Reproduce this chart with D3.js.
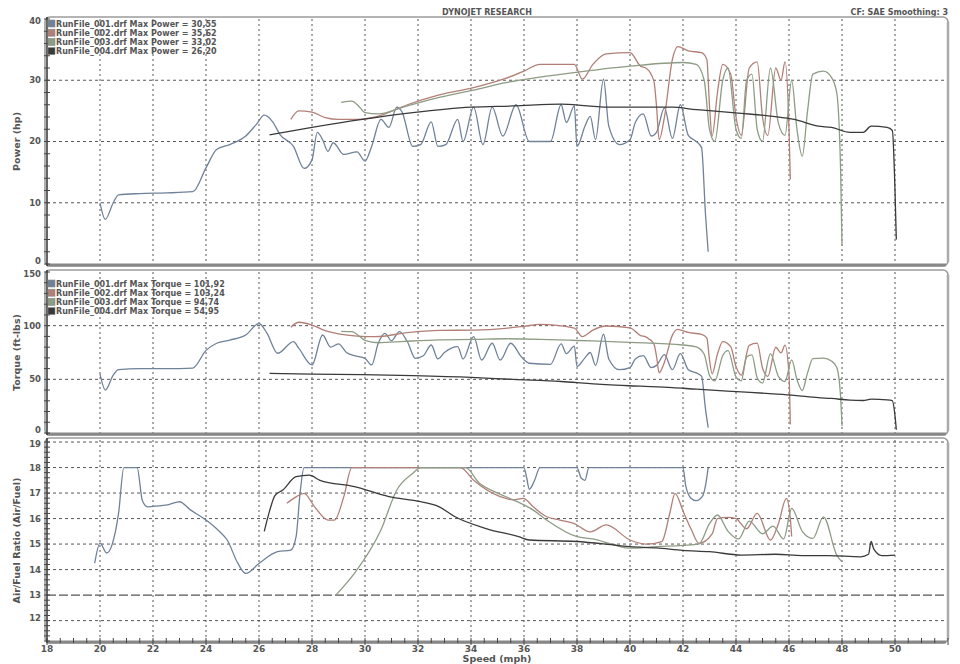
<!DOCTYPE html>
<html>
<head>
<meta charset="utf-8">
<script src="https://cdn.jsdelivr.net/npm/d3@7"></script>
<style>
  body { margin: 0; background: #fff; }
  text { font-family: "DejaVu Sans", Verdana, sans-serif; font-weight: bold; fill: #555; }
</style>
</head>
<body>
<svg id="chart" width="960" height="664"></svg>
<script>
// ---- data ----
const runFiles = ["RunFile_001.drf", "RunFile_002.drf", "RunFile_003.drf", "RunFile_004.drf"];
const maxPower = ["30,55", "35,62", "33,02", "26,20"];
const maxTorque = ["101,92", "103,24", "94,74", "54,95"];
const speedTicks = [18, 20, 22, 24, 26, 28, 30, 32, 34, 36, 38, 40, 42, 44, 46, 48, 50];
const powerTicks = [0, 10, 20, 30, 40];
const torqueTicks = [0, 50, 100, 150];
const afrTicks = [12, 13, 14, 15, 16, 17, 18, 19];

// [speed mph, hp]
const power001 = [[20.0,10.0],[20.2,7.3],[20.5,10.0],[20.7,11.3],[21.5,11.5],[22.5,11.6],[23.5,11.8],[24.0,15.7],[24.4,18.7],[24.9,19.5],[25.5,20.9],[25.9,22.8],[26.2,24.3],[26.5,23.3],[26.8,21.1],[27.3,19.2],[27.7,15.6],[28.0,17.0],[28.2,21.5],[28.4,20.3],[28.6,18.4],[28.8,19.8],[29.2,17.9],[29.7,18.3],[30.0,16.8],[30.25,19.2],[30.6,23.6],[30.9,22.3],[31.2,25.6],[31.4,24.8],[31.8,19.2],[32.1,19.5],[32.5,23.2],[32.75,19.2],[33.05,19.5],[33.5,23.6],[33.7,20.0],[34.1,25.6],[34.45,19.5],[34.8,25.6],[35.2,20.9],[35.7,26.0],[36.2,20.0],[37.0,20.0],[37.4,26.0],[37.6,23.1],[37.9,25.8],[38.0,19.2],[38.3,22.5],[38.5,24.1],[38.7,20.3],[39.0,30.2],[39.2,22.5],[39.6,19.5],[40.0,20.3],[40.2,23.1],[40.5,24.5],[40.8,20.9],[41.0,21.5],[41.3,25.5],[41.6,20.5],[41.9,26.0],[42.2,21.0],[42.5,20.0],[42.7,19.0],[42.85,8.0],[42.95,2.0]];
const power002 = [[27.2,23.6],[27.5,25.0],[28.0,24.8],[28.5,23.9],[29.0,23.6],[29.7,23.6],[30.4,24.0],[31.6,26.0],[32.8,27.6],[34.1,28.8],[35.3,30.3],[36.0,31.5],[36.6,32.6],[37.9,32.6],[38.2,30.2],[38.6,32.6],[39.1,34.3],[40.0,34.5],[40.4,32.3],[40.6,32.0],[40.9,29.9],[41.0,25.8],[41.1,20.3],[41.3,24.0],[41.6,33.4],[41.8,35.5],[42.2,34.8],[42.7,34.5],[42.9,33.4],[43.0,25.8],[43.1,20.9],[43.3,28.0],[43.5,32.6],[43.8,31.0],[44.0,24.0],[44.2,21.0],[44.5,32.0],[44.8,33.0],[45.0,24.0],[45.2,21.0],[45.5,32.0],[45.7,30.0],[45.85,33.0],[46.0,22.0],[46.05,13.8]];
const power003 = [[29.1,26.4],[29.5,26.6],[29.8,25.6],[30.0,24.7],[30.5,24.5],[31.5,25.7],[32.8,27.2],[34.1,28.4],[35.3,29.6],[36.6,30.5],[38.0,31.3],[40.0,32.3],[42.0,32.9],[42.5,32.6],[42.8,30.0],[43.0,22.0],[43.2,20.0],[43.5,30.0],[43.7,32.0],[44.0,22.0],[44.2,20.5],[44.4,30.0],[44.6,31.0],[44.8,22.0],[45.0,20.0],[45.3,32.0],[45.6,23.0],[45.85,21.0],[46.1,30.0],[46.3,22.0],[46.5,17.6],[46.7,25.0],[46.9,31.0],[47.3,31.5],[47.6,30.5],[47.8,28.0],[47.95,15.0],[48.0,3.0]];
const power004 = [[26.4,21.1],[28.0,22.3],[29.9,23.6],[31.8,24.7],[34.0,25.6],[35.6,25.8],[37.4,26.1],[38.4,25.8],[39.1,25.6],[40.4,25.6],[41.6,25.6],[42.5,25.2],[43.1,25.0],[44.2,24.6],[45.4,24.1],[46.2,23.6],[47.1,22.5],[47.6,22.3],[48.3,21.5],[48.8,21.5],[49.1,22.5],[49.7,22.3],[49.9,21.8],[50.0,12.0],[50.05,4.0]];

// [speed mph, ft-lbs]
const torque001 = [[20.0,55],[20.2,40],[20.5,54],[20.7,59],[21.5,60],[22.5,60],[23.5,60.5],[24.0,77],[24.4,83.6],[24.9,86.6],[25.5,91.3],[26.0,102],[26.3,93],[26.7,74.3],[27.3,85.1],[27.5,79],[28.0,63.4],[28.4,91.3],[28.7,80],[29.0,83],[29.3,75],[29.6,72],[30.0,69.6],[30.25,63.4],[30.5,83.6],[30.75,92.9],[31.0,86],[31.3,94.4],[31.6,85],[31.9,69.6],[32.2,72],[32.5,82],[32.75,69],[33.0,75],[33.5,80.4],[33.7,69],[34.1,89.7],[34.4,68],[34.8,83.6],[35.1,68],[35.5,83.6],[35.9,71],[36.2,65],[37.0,64],[37.4,83],[37.6,74],[37.9,81],[38.0,62],[38.3,70],[38.5,75],[38.7,63],[39.0,92],[39.2,69],[39.6,59],[40.0,61],[40.2,69],[40.5,72],[40.8,61],[41.0,63],[41.3,73],[41.6,59],[41.9,74],[42.2,59],[42.5,56],[42.7,53],[42.85,22],[42.95,5]];
const torque002 = [[27.2,98.6],[27.5,103.2],[28.0,100.6],[28.5,95.3],[29.0,92.4],[29.7,90.3],[30.4,89.7],[31.6,93.5],[32.8,95.6],[34.1,95.9],[35.3,97.5],[36.0,99.4],[36.6,101.2],[37.9,97.7],[38.2,89.8],[38.6,95.9],[39.1,99.7],[40.0,98],[40.4,90.8],[40.6,89.5],[40.9,83],[41.0,71.5],[41.1,56.1],[41.3,66],[41.6,91.2],[41.8,96.5],[42.2,93.7],[42.7,91.8],[42.9,88.4],[43.0,68.2],[43.1,55.1],[43.3,73.5],[43.5,85.1],[43.8,80.4],[44.0,62],[44.2,54],[44.5,81.7],[44.8,83.7],[45.0,60.6],[45.2,52.8],[45.5,79.9],[45.7,74.6],[45.85,81.8],[46.0,54.3],[46.05,8]];
const torque003 = [[29.1,94.7],[29.5,94.4],[29.8,90],[30.0,86.2],[30.5,84.1],[31.5,85.4],[32.8,86.8],[34.1,87.2],[35.3,87.8],[36.6,87.3],[38.0,86.2],[40.0,84.5],[42.0,82],[42.5,80.3],[42.8,73.4],[43.0,53.6],[43.2,48.5],[43.5,72.2],[43.7,76.7],[44.0,52.4],[44.2,48.6],[44.4,70.7],[44.6,72.8],[44.8,51.4],[45.0,46.5],[45.3,74],[45.6,52.8],[45.85,48],[46.1,68.1],[46.3,49.8],[46.5,39.6],[46.7,56],[46.9,69.2],[47.3,69.7],[47.6,67.1],[47.8,61.3],[47.95,32.8],[48.0,6.5]];
const torque004 = [[26.4,55.5],[28.0,54.8],[29.9,54.3],[31.8,53.4],[34.0,51.8],[35.6,49.9],[37.4,48],[38.4,46.2],[39.1,45],[40.4,43.6],[41.6,42.3],[42.5,40.8],[43.1,39.9],[44.2,38.3],[45.4,36.5],[46.2,35.1],[47.1,32.9],[47.6,32.2],[48.3,30.6],[48.8,30.3],[49.1,31.5],[49.7,30.9],[49.9,30.1],[50.0,16],[50.05,3]];

// [speed mph, air/fuel]
const afr001 = [[19.8,14.25],[20.0,15.04],[20.25,14.65],[20.45,14.96],[20.7,16.2],[20.9,18.0],[21.4,18.0],[21.6,16.7],[21.8,16.46],[22.2,16.5],[22.6,16.55],[23.0,16.66],[23.4,16.35],[24.0,15.94],[24.5,15.5],[24.8,15.16],[25.2,14.25],[25.5,13.85],[26.0,14.24],[26.7,14.7],[27.2,14.76],[27.4,15.29],[27.55,17.0],[27.7,18.0],[36.0,18.0],[36.1,17.6],[36.2,17.15],[36.4,17.5],[36.6,18.0],[38.0,18.0],[38.15,17.6],[38.3,17.5],[38.45,18.0],[42.0,18.0],[42.1,17.3],[42.3,16.8],[42.5,16.7],[42.75,16.9],[42.85,17.3],[42.95,18.0]];
const afr002 = [[27.05,16.6],[27.4,16.85],[27.7,16.99],[28.1,16.46],[28.6,15.94],[28.85,15.94],[29.2,16.86],[29.5,18.0],[33.6,18.0],[34.1,17.5],[35.1,16.86],[35.6,16.73],[35.97,16.79],[36.35,16.46],[36.86,16.07],[37.36,15.94],[37.9,15.8],[38.5,15.48],[39.1,15.75],[40.0,15.16],[40.6,15.0],[41.2,15.1],[41.5,16.2],[41.7,16.99],[42.0,16.3],[42.3,15.6],[42.6,15.03],[43.1,15.4],[43.3,16.0],[43.7,16.05],[44.0,16.0],[44.4,15.6],[44.8,16.2],[45.3,15.16],[45.6,15.8],[45.9,16.79],[46.05,16.0],[46.1,15.3]];
const afr003 = [[28.9,13.0],[29.6,13.85],[30.6,15.55],[31.2,17.12],[31.8,17.77],[32.1,18.0],[33.8,18.0],[34.3,17.4],[35.0,17.0],[35.6,16.73],[36.35,16.33],[36.86,15.94],[38.0,15.29],[38.6,15.2],[39.3,15.0],[40.0,14.84],[41.0,14.9],[42.0,14.95],[42.6,15.0],[43.0,15.8],[43.3,16.14],[43.7,15.5],[44.1,15.2],[44.5,15.9],[45.0,15.4],[45.4,15.7],[45.8,15.2],[46.1,16.4],[46.5,15.5],[46.9,15.22],[47.3,16.07],[47.8,14.57],[48.0,14.3]];
const afr004 = [[26.2,15.5],[26.4,16.3],[26.6,16.9],[26.9,17.12],[27.4,17.64],[27.9,17.7],[28.3,17.5],[29.6,17.25],[30.9,16.86],[32.1,16.66],[32.8,16.46],[33.4,16.07],[34.6,15.6],[35.8,15.29],[36.2,15.16],[38.0,15.1],[39.5,14.95],[40.0,14.9],[41.0,14.85],[42.0,14.75],[43.0,14.7],[44.2,14.57],[45.5,14.6],[46.5,14.55],[47.5,14.55],[48.7,14.5],[49.0,14.6],[49.1,15.1],[49.2,14.8],[49.5,14.55],[50.0,14.57]];

// ---- drawing ----
const seriesColors = ["#6f8299", "#b27f77", "#8d9c84", "#3a3a3a"];
const svg = d3.select("#chart");
const x = d3.scaleLinear().domain([18, 52]).range([47, 948]);

svg.append("text").attr("x", 487).attr("y", 15).attr("text-anchor", "middle")
  .style("font-size", "8px").text("DYNOJET RESEARCH");
svg.append("text").attr("x", 948).attr("y", 15).attr("text-anchor", "end")
  .style("font-size", "8px").text("CF: SAE  Smoothing: 3");

const panels = [
  { id: "power", domain: [0, 40], top: 19, bottom: 264, ticks: powerTicks, minor: 2,
    label: "Power (hp)", series: [power001, power002, power003, power004],
    legend: maxPower.map((m, i) => `${runFiles[i]} Max Power = ${m}`), legendY: 24 },
  { id: "torque", domain: [0, 150], top: 272, bottom: 433, ticks: torqueTicks, minor: 10,
    label: "Torque (ft-lbs)", series: [torque001, torque002, torque003, torque004],
    legend: maxTorque.map((m, i) => `${runFiles[i]} Max Torque = ${m}`), legendY: 284 },
  { id: "afr", domain: [11.2, 19.08], top: 440, bottom: 641, ticks: afrTicks, minor: 0.2,
    label: "Air/Fuel Ratio (Air/Fuel)", series: [afr001, afr002, afr003, afr004],
    legend: null }
];

panels.forEach(p => {
  const y = d3.scaleLinear().domain(p.domain).range([p.bottom, p.top]);
  const g = svg.append("g").attr("class", p.id);
  const left = x(18), right = x(52);

  g.append("clipPath").attr("id", "clip-" + p.id)
    .append("rect").attr("x", left).attr("y", p.top - 1)
    .attr("width", right - left).attr("height", p.bottom - p.top + 1);

  // grid
  g.append("g").selectAll("line").data(speedTicks.slice(1)).join("line")
    .attr("x1", d => x(d)).attr("x2", d => x(d))
    .attr("y1", p.top).attr("y2", p.bottom)
    .attr("stroke", "#444").attr("stroke-width", 0.9).attr("stroke-dasharray", "2,3");
  g.append("g").selectAll("line")
    .data(p.ticks.filter(t => t > p.domain[0] && t < p.domain[1])).join("line")
    .attr("x1", left).attr("x2", right - 2)
    .attr("y1", d => y(d)).attr("y2", d => y(d))
    .attr("stroke", d => (p.id === "afr" && d === 13) ? "#555" : "#444")
    .attr("stroke-width", d => (p.id === "afr" && d === 13) ? 1.4 : 0.9)
    .attr("stroke-dasharray", d => (p.id === "afr" && d === 13) ? "9,3" : "3,3");

  // frame
  g.append("rect").attr("x", left - 2).attr("y", p.top - 2)
    .attr("width", right - left + 2).attr("height", p.bottom - p.top + 4)
    .attr("rx", 5).attr("fill", "none").attr("stroke", "#9c9c9c").attr("stroke-width", 1.6);
  g.append("line").attr("x1", right).attr("x2", right).attr("y1", p.top + 3).attr("y2", p.bottom - 2)
    .attr("stroke", "#aaa").attr("stroke-width", 2.5);
  g.append("line").attr("x1", left).attr("x2", right - 2).attr("y1", p.bottom + 1).attr("y2", p.bottom + 1)
    .attr("stroke", "#888").attr("stroke-width", 3);
  g.append("line").attr("x1", left).attr("x2", left).attr("y1", p.top - 2).attr("y2", p.bottom + 2)
    .attr("stroke", "#333").attr("stroke-width", 1.5);

  // y ticks (crossing marks) and labels
  const minorTicks = d3.range(Math.ceil(p.domain[0] / p.minor) * p.minor, p.domain[1] + 1e-9, p.minor);
  g.append("g").selectAll("line").data(minorTicks).join("line")
    .attr("x1", left - 3).attr("x2", left + 3)
    .attr("y1", d => y(d)).attr("y2", d => y(d))
    .attr("stroke", "#444").attr("stroke-width", 1);
  // labels at the panel ends are nudged inward so neighbouring panels' labels don't collide
  g.append("g").selectAll("text").data(p.ticks).join("text")
    .attr("x", 41)
    .attr("y", d => y(d) + (d === p.ticks[0] ? -3 : 0) + (d === p.ticks[p.ticks.length - 1] ? 2 : 0))
    .attr("dy", "0.35em").attr("text-anchor", "end")
    .style("font-size", "8.5px").text(d => d);

  g.append("text")
    .attr("transform", `translate(20, ${(p.top + p.bottom) / 2}) rotate(-90)`)
    .attr("text-anchor", "middle").style("font-size", "9.5px").text(p.label);

  // curves
  const line = d3.line().x(d => x(d[0])).y(d => y(d[1])).curve(d3.curveMonotoneX);
  g.append("g").attr("clip-path", `url(#clip-${p.id})`)
    .selectAll("path").data(p.series).join("path")
    .attr("d", line).attr("fill", "none")
    .attr("stroke", (d, i) => seriesColors[i]).attr("stroke-width", 1.3)
    .attr("stroke-linejoin", "round");

  // legend
  if (p.legend) {
    const lg = g.append("g").selectAll("g").data(p.legend).join("g")
      .attr("transform", (d, i) => `translate(48, ${p.legendY + i * 9.2})`);
    lg.append("rect").attr("x", 0).attr("y", -4).attr("width", 7).attr("height", 7)
      .attr("fill", (d, i) => seriesColors[i]).attr("stroke", "#888").attr("stroke-width", 0.6);
    lg.append("text").attr("x", 8).attr("y", 0).attr("dy", "0.35em")
      .style("font-size", "8px").text(d => d);
  }
});

// speed axis
const axisY = 641;
const speedMinor = d3.range(18, 52.01, 0.5);
svg.append("g").selectAll("line").data(speedMinor).join("line")
  .attr("x1", d => x(d)).attr("x2", d => x(d))
  .attr("y1", axisY - 3).attr("y2", d => (d % 2 === 0) ? axisY + 4 : axisY + 2)
  .attr("stroke", "#444").attr("stroke-width", 1);
svg.append("g").selectAll("text").data(speedTicks).join("text")
  .attr("x", d => x(d)).attr("y", 652).attr("text-anchor", "middle")
  .style("font-size", "9px").text(d => d);
svg.append("text").attr("x", 497).attr("y", 662).attr("text-anchor", "middle")
  .style("font-size", "9.5px").text("Speed (mph)");
</script>
</body>
</html>
